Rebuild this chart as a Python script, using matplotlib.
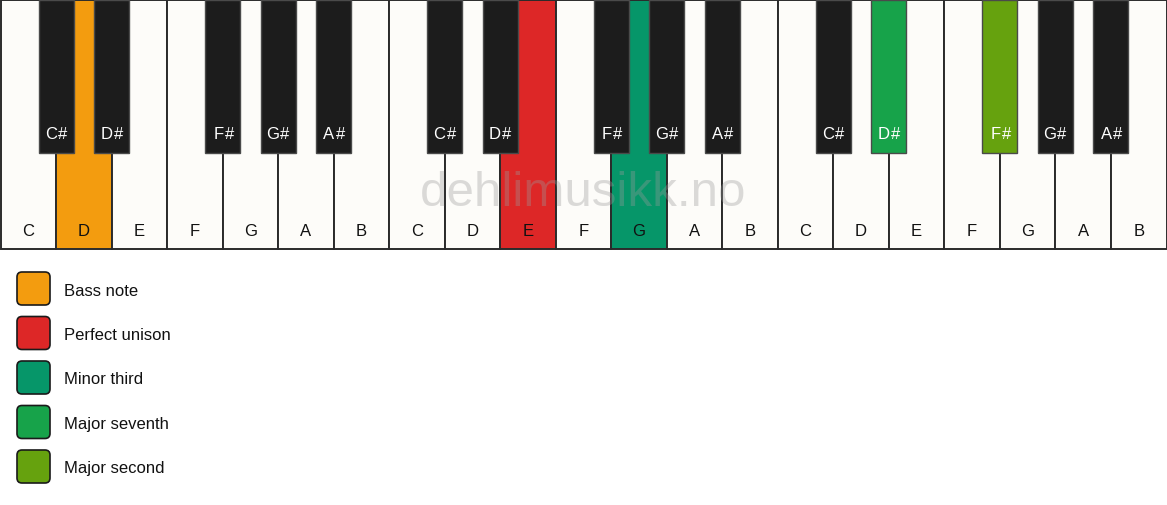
import matplotlib.pyplot as plt
from matplotlib.patches import Rectangle, FancyBboxPatch

# keyboard layout: three octaves
white_notes = ['C', 'D', 'E', 'F', 'G', 'A', 'B']
black_notes = ['C#', 'D#', None, 'F#', 'G#', 'A#', None]
n_octaves = 3

# highlighted keys: (octave, note) -> colour
highlights = {
    (0, 'D'): '#F39C0F',
    (1, 'E'): '#DD2727',
    (1, 'G'): '#069669',
    (2, 'D#'): '#17A34A',
    (2, 'F#'): '#66A20E',
}

legend_labels = ['Bass note', 'Perfect unison', 'Minor third', 'Major seventh', 'Major second']
legend_colors = ['#F39C0F', '#DD2727', '#069669', '#17A34A', '#66A20E']

watermark = 'dehlimusikk.no'

W, H = 1167, 506
fig = plt.figure(figsize=(W / 100, H / 100), dpi=100)
ax = fig.add_axes([0, 0, 1, 1])
ax.set_xlim(0, W)
ax.set_ylim(H, 0)
ax.axis('off')

font = 'Liberation Sans'
x0, x1 = 0.5, W - 0.5
key_w = (x1 - x0) / (7 * n_octaves)
key_h = 249.5
bk_w, bk_h = 35, 153

# white keys
for o in range(n_octaves):
    for i, note in enumerate(white_notes):
        x = x0 + (o * 7 + i) * key_w
        fc = highlights.get((o, note), '#FDFCF9')
        ax.add_patch(Rectangle((x, 0.5), key_w, key_h, facecolor=fc,
                               edgecolor='#2b2b2b', linewidth=1.4, zorder=1))
        ax.text(x + key_w / 2, 231, note, ha='center', va='center',
                fontsize=12, family=font, color='#111111', zorder=5)

# watermark sits between the white and black keys
ax.text(583, 194, watermark, ha='center', va='center', fontsize=35.5,
        family=font, color='#9a9a9a', alpha=0.35, zorder=2)

# black keys
for o in range(n_octaves):
    for i, note in enumerate(black_notes):
        if note is None:
            continue
        xc = x0 + (o * 7 + i + 1) * key_w
        fc = highlights.get((o, note), '#1C1C1C')
        ax.add_patch(Rectangle((xc - bk_w / 2, 0.5), bk_w, bk_h, facecolor=fc,
                               edgecolor='#4a4a4a', linewidth=1.0, zorder=3))
        # letter and sharp sign drawn apart to keep the gap seen in the original
        ax.text(xc + 0.9, 134, note[0], ha='right', va='center', fontsize=12,
                family=font, color='white', zorder=5)
        ax.text(xc + 1.9, 134, note[1], ha='left', va='center', fontsize=12,
                family=font, color='white', zorder=5)

# legend
for k, (lab, col) in enumerate(zip(legend_labels, legend_colors)):
    y = 273 + k * 44.5
    ax.add_patch(FancyBboxPatch((17 + 5, y + 5), 33 - 10, 33 - 10,
                                boxstyle='round,pad=5', facecolor=col,
                                edgecolor='#1a1a1a', linewidth=1.2))
    ax.text(64, y + 18, lab, ha='left', va='center', fontsize=12,
            family=font, color='#111111')

fig.savefig('out.png', dpi=100, facecolor='white')
